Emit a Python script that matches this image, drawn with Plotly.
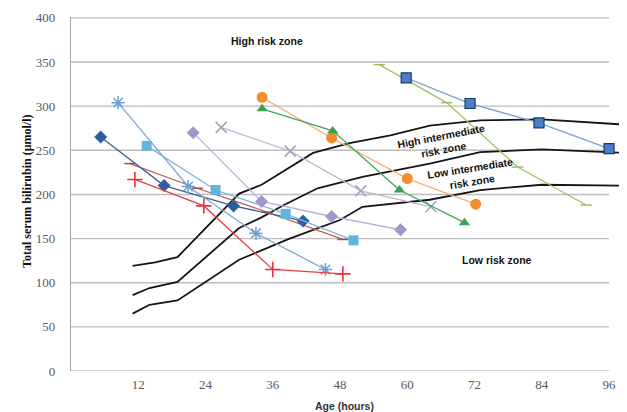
import plotly.graph_objects as go

# ---- axis ticks ----
x_ticks = [12, 24, 36, 48, 60, 72, 84, 96]
y_ticks = [0, 50, 100, 150, 200, 250, 300, 350, 400]

# ---- percentile (risk zone) curves ----
p95_x = [11, 15, 19, 30, 34, 37.3, 43.2, 49.7, 57, 64, 73, 84, 99]
p95_y = [119, 123, 129, 201, 211, 224, 247, 258, 267, 278, 284, 285, 279]
p75_x = [11, 14, 19, 30, 34, 38, 44, 52, 64, 73, 84, 99]
p75_y = [86, 94, 101, 162, 174, 188, 207, 220, 235, 248, 251, 247]
p40_x = [11, 14, 19, 30, 39, 48, 52, 64, 73, 84, 99]
p40_y = [65, 75, 80, 126, 150, 171, 186, 194, 205, 211, 210]

# ---- individual infant series (age in hours, TSB in umol/l) ----
s_darkdiamond_x = [5.3, 16.6, 29.0, 41.4]
s_darkdiamond_y = [265, 210, 187, 170]
s_asterisk_x = [8.4, 20.9, 33.0, 45.4]
s_asterisk_y = [304, 209, 156, 115]
s_lightsquare_x = [13.5, 25.8, 38.3, 50.4]
s_lightsquare_y = [255, 205, 178, 148]
s_plus_x = [11.4, 23.7, 36.0, 48.5]
s_plus_y = [217, 187, 115, 110]
s_brown_x = [10.5, 22.5, 35.0, 48.5]
s_brown_y = [235, 207, 180, 149]
s_lavender_x = [21.8, 34.0, 46.5, 58.8]
s_lavender_y = [270, 192, 175, 160]
s_grayx_x = [26.8, 39.1, 51.7, 64.2]
s_grayx_y = [276, 249, 204, 186]
s_orange_x = [34.1, 46.5, 60.0, 72.2]
s_orange_y = [310, 264, 218, 189]
s_green_x = [34.1, 46.7, 58.6, 70.2]
s_green_y = [297, 272, 205, 168]
s_olive_x = [55.0, 67.0, 79.7, 91.9]
s_olive_y = [347, 304, 231, 188]
s_bluesquare_x = [59.8, 71.2, 83.5, 96.0]
s_bluesquare_y = [332, 303, 281, 252]

fig = go.Figure()

# gridlines (stop at 96 h like the original)
for v in y_ticks:
    fig.add_shape(type="line", xref="x", yref="y", x0=0, x1=x_ticks[-1], y0=v, y1=v,
                  line=dict(color="#BDBDBD", width=1.4), layer="below")

for cx, cy in [(p95_x, p95_y), (p75_x, p75_y), (p40_x, p40_y)]:
    fig.add_trace(go.Scatter(x=cx, y=cy, mode="lines",
                             line=dict(color="#151515", width=1.8),
                             hoverinfo="skip"))

def add_series(x, y, line_color, symbol, mcolor, size, mline_color=None, mline_width=0):
    fig.add_trace(go.Scatter(
        x=x, y=y, mode="lines+markers",
        line=dict(color=line_color, width=1.3),
        marker=dict(symbol=symbol, color=mcolor, size=size,
                    line=dict(color=mline_color or mcolor, width=mline_width)),
    ))

add_series(s_brown_x, s_brown_y, "#C0605A", "line-ew-open", "#B24A45", 8, "#B24A45", 1.5)
add_series(s_darkdiamond_x, s_darkdiamond_y, "#3F5F8E", "diamond", "#2F5EA0", 10)
add_series(s_asterisk_x, s_asterisk_y, "#7FA5D2", "asterisk-open", "#6E9ED4", 11, "#6E9ED4", 1.5)
add_series(s_lightsquare_x, s_lightsquare_y, "#7FB6DA", "square", "#62B4DC", 10)
add_series(s_plus_x, s_plus_y, "#E5404A", "cross-thin-open", "#E8323C", 11, "#E8323C", 1.6)
add_series(s_lavender_x, s_lavender_y, "#B9B0D6", "diamond", "#A397C9", 10)
add_series(s_grayx_x, s_grayx_y, "#BDB8CF", "x-thin-open", "#A8A2BE", 11, "#A8A2BE", 1.6)
add_series(s_orange_x, s_orange_y, "#F4B07A", "circle", "#F28C2E", 11)
add_series(s_green_x, s_green_y, "#3EA85C", "triangle-up", "#3FA34D", 10)
add_series(s_olive_x, s_olive_y, "#A6BF62", "line-ew-open", "#A3BD5E", 8, "#A3BD5E", 1.5)
add_series(s_bluesquare_x, s_bluesquare_y, "#7EA0D6", "square", "#4A7FC7", 10, "#1C3A66", 1.2)

zone_font = dict(family="Liberation Sans, Arial, sans-serif", size=10.5, color="#111111")
zones = [
    ("<b>High risk zone</b>", 35, 374, 0),
    ("<b>High intermediate<br>risk zone</b>", 66.2, 258, -11),
    ("<b>Low intermediate<br>risk zone</b>", 71.4, 222, -9),
    ("<b>Low risk zone</b>", 76, 126, 0),
]
for txt, ax_, ay_, ang in zones:
    fig.add_annotation(x=ax_, y=ay_, xref="x", yref="y", text=txt, showarrow=False,
                       textangle=ang, font=zone_font, xanchor="center", yanchor="middle")

fig.add_annotation(text="<b>Total serum bilirubin (μmol/l)</b>", xref="paper", yref="paper",
                   x=-0.0953, y=0.506, textangle=-90, showarrow=False,
                   font=dict(family="Liberation Serif, Times New Roman, serif", size=12, color="#111111"))
fig.add_annotation(text="<b>Age (hours)</b>", xref="paper", yref="paper",
                   x=0.492, y=0, yshift=-35, showarrow=False, yanchor="middle",
                   font=dict(family="Liberation Sans, Arial, sans-serif", size=10.5, color="#333333"))

tick_font = dict(family="Liberation Serif, Times New Roman, serif", size=13, color="#595959")
# The page body adds an 8px offset, so the figure is 8px smaller and margins shifted accordingly.
fig.update_layout(
    width=619, height=404,
    margin=dict(l=63, r=0, t=9, b=41),
    paper_bgcolor="white", plot_bgcolor="white",
    showlegend=False,
    xaxis=dict(range=[0, 99.2], tickvals=x_ticks, showgrid=False, zeroline=False,
               showline=False, ticks="", tickfont=tick_font, ticklabelstandoff=4),
    yaxis=dict(range=[0, 401], tickvals=y_ticks, showgrid=False, zeroline=False,
               showline=True, linecolor="#A6A6A6", linewidth=1.2, ticks="",
               tickfont=tick_font, ticklabelstandoff=12),
)

fig.write_html("out.html")
